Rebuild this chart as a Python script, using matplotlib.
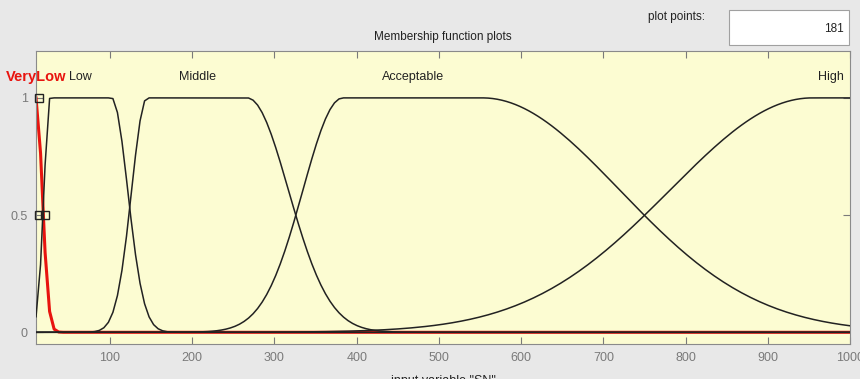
import numpy as np
import matplotlib.pyplot as plt
from matplotlib.patches import Rectangle

plt.rcParams['font.family'] = ['Liberation Sans', 'DejaVu Sans']

# membership functions of input "SN" (gauss2mf: sig1, c1, sig2, c2)
mf_names = ["VeryLow", "Low", "Middle", "Acceptable", "High"]
mf_sig1 = [7.0, 7.3, 18.7, 48.4, 173.0]
mf_c1 = [10.0, 27.0, 145.0, 383.0, 954.0]
mf_sig2 = [7.5, 19.5, 50.0, 167.0, 50.0]
mf_c2 = [10.0, 102.0, 267.0, 553.0, 1000.0]
selected = 0          # VeryLow is highlighted in red

x_range = [10, 1000]
plot_points = 181


def gauss2mf(x, s1, c1, s2, c2):
    y1 = np.where(x < c1, np.exp(-(x - c1) ** 2 / (2 * s1 ** 2)), 1.0)
    y2 = np.where(x > c2, np.exp(-(x - c2) ** 2 / (2 * s2 ** 2)), 1.0)
    return y1 * y2


def draw_mf_plot():
    fig = plt.figure(figsize=(8.6, 3.79), dpi=100)
    fig.patch.set_facecolor('#e8e8e8')
    ax = fig.add_axes([0.0419, 0.0923, 0.9465, 0.7731])
    ax.set_facecolor('#fcfcd2')

    x = np.linspace(x_range[0], x_range[1], plot_points)

    # selected one first, thicker, then the others on top
    for i in range(len(mf_names)):
        y = gauss2mf(x, mf_sig1[i], mf_c1[i], mf_sig2[i], mf_c2[i])
        if i == selected:
            ax.plot(x, y, color='#e8140f', linewidth=2.2, zorder=2)
        else:
            ax.plot(x, y, color='#222222', linewidth=1.1, zorder=3)

        # label at the middle of the plateau
        xc = (mf_c1[i] + mf_c2[i]) / 2
        if i == selected:
            ax.text(xc, 1.09, mf_names[i], color='#e8140f', fontsize=10.5,
                    fontweight='bold', ha='center', va='center', clip_on=False)
        else:
            ax.text(xc, 1.09, mf_names[i], color='#222222', fontsize=9,
                    ha='center', va='center', clip_on=False)

    # edit handles of the selected function
    ax.plot([14], [1.0], 's', ms=6, mfc='none', mec='#222222', mew=1,
            clip_on=False, zorder=4)
    ax.plot([14, 21], [0.5, 0.5], 's', ms=6, mfc='none', mec='#222222',
            mew=1, clip_on=False, zorder=4)

    ax.set_xlim(x_range)
    ax.set_ylim(-0.05, 1.2)
    ax.set_xticks(np.arange(100, 1001, 100))
    ax.set_yticks([0, 0.5, 1])
    ax.set_yticklabels(['0', '0.5', '1'])
    ax.tick_params(direction='in', top=True, right=True, labelsize=9,
                   labelcolor='#7a7a7a', color='#7a7a7a', length=5, pad=6)
    for sp in ax.spines.values():
        sp.set_color('#8a8a8a')

    ax.set_xlabel('input variable "SN"', fontsize=9, color='#222222',
                  labelpad=8)
    fig.text(0.515, 0.903, 'Membership function plots', fontsize=8.5,
             ha='center', va='center', color='#222222')

    # "plot points" box
    fig.text(0.787, 0.955, 'plot points:', fontsize=8.5, ha='center',
             va='center', color='#222222')
    fig.patches.append(Rectangle((0.848, 0.881), 0.139, 0.093,
                                 transform=fig.transFigure, facecolor='white',
                                 edgecolor='#a0a0a0', linewidth=0.8))
    fig.text(0.981, 0.924, str(plot_points), fontsize=8.5, ha='right',
             va='center', color='#222222')

    fig.savefig('out.png', dpi=100, facecolor=fig.get_facecolor())


if __name__ == "__main__":
    draw_mf_plot()
